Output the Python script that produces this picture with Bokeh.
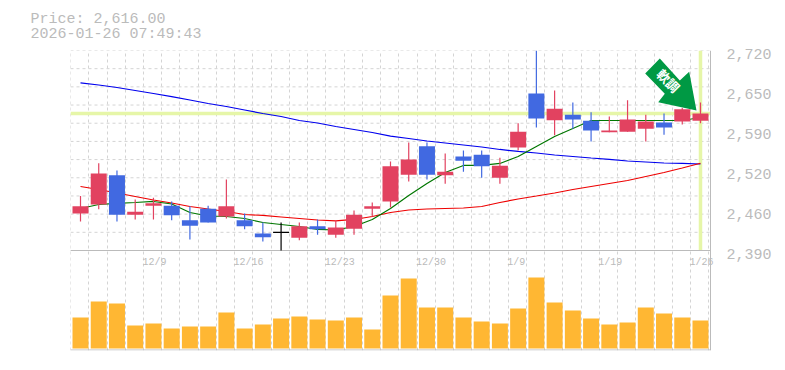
from bokeh.plotting import figure
from bokeh.embed import file_html
from bokeh.resources import INLINE
from bokeh.models import (ColumnDataSource, FixedTicker, Label, LinearAxis, Range1d, Title)

open_ = [2451,2466,2514,2449,2464,2464,2440,2459,2446,2440,2418,2420,2411,2430,2416,2426,2459,2471,2515,2562,2514,2545,2548,2510,2560,2649,2605,2614,2604,2585,2586,2591,2601,2603,2604]
high_ = [2480,2534,2522,2474,2477,2471,2463,2464,2507,2451,2436,2436,2436,2441,2440,2456,2469,2537,2568,2568,2550,2555,2555,2543,2600,2720,2654,2634,2618,2611,2638,2614,2616,2625,2634]
low_  = [2438,2458,2438,2441,2441,2440,2408,2436,2443,2425,2405,2390,2407,2416,2411,2416,2446,2461,2504,2507,2500,2520,2510,2500,2555,2593,2580,2591,2570,2585,2586,2570,2581,2598,2600]
close = [2463,2517,2449,2454,2468,2448,2431,2436,2463,2430,2412,2420,2430,2425,2428,2449,2463,2529,2540,2515,2520,2538,2529,2530,2586,2608,2624,2606,2588,2588,2606,2603,2593,2623,2616]
ma_short = [2459.3,2465.9,2467.6,2469.2,2470.9,2466.7,2452.7,2446.9,2446.1,2442.8,2436.2,2432.9,2429.6,2424.7,2423.8,2429.6,2441.2,2459.3,2480.8,2500.6,2518.7,2530.3,2530.3,2533.6,2545.1,2561.6,2578.1,2591.3,2604.5,2604.5,2604.5,2604.5,2604.5,2604.5,2609.5]
ma_mid = [2495.6,2490.7,2484.9,2479.1,2473.3,2468.4,2462.6,2458.5,2454.4,2449.4,2447.8,2445.3,2442.8,2440.3,2439,2441.2,2446.1,2452.7,2456.8,2458.5,2459.3,2460.1,2462.6,2469.2,2475,2479.9,2484.9,2490.7,2495.6,2500.6,2505.5,2512.1,2518.7,2526.1,2534]
ma_long = [2666.7,2663.1,2659,2654,2649,2644,2638.3,2632.5,2627.6,2621.8,2616,2611.1,2604.5,2600.4,2594.6,2589.6,2584.7,2578.6,2574.8,2570.7,2567.4,2564.1,2560.8,2556.7,2553.4,2550.9,2547.6,2545.1,2542.6,2540.2,2537.7,2536,2534.4,2533.6,2532.7]
volume = [31,47,45,23,25,20,22,22,36,20,24,30,32,29,28,31,19,53,70,41,41,31,27,25,40,71,46,38,30,24,26,41,35,31,28]
date_index = [4,9,14,19,24,29,34]
date_labels = ["12/9","12/16","12/23","12/30","1/9","1/19","1/26"]
price_labels = ["2,720","2,650","2,590","2,520","2,460","2,390"]
price_ticks = [2720,2654,2588,2522,2456,2390]
grid_prices = list(range(2390,2721,30))
last_price = 2616
title_lines = ["Price: 2,616.00","2026-01-26 07:49:43"]
badge_text = "軟調"

RED="#e24260"; BLUE="#4169e1"; ORANGE="#ffb733"; GRAY="#bbbbbb"; GRID="#d4d4d4"; PALE="#e6f6a8"; GREEN="#009944"
MONO="Liberation Mono"
STEP=18.235

n=len(close)
xs=list(range(n))
p=figure(width=785,height=370,output_backend="svg",toolbar_location=None,
         x_range=Range1d(-10/STEP,634/STEP),y_range=Range1d(2225,2720),
         min_border_left=70,min_border_right=71,min_border_top=50,min_border_bottom=20,
         x_axis_location=None,y_axis_location=None)
p.extra_y_ranges={"vol":Range1d(-2,298)}
p.outline_line_color=None
p.background_fill_color="white"

def px(v): return (v-80)/STEP
def py(v): return 2802.5-1.65*v
x0,x1=px(70),px(710)

p.xgrid.ticker=FixedTicker(ticks=[-0.545+i for i in range(36)])
p.xgrid.grid_line_color=GRID; p.xgrid.grid_line_dash="3 3"; p.xgrid.grid_line_width=1
p.ygrid.grid_line_color=None
p.segment([x0]*len(grid_prices),grid_prices,[x1]*len(grid_prices),grid_prices,line_color=GRID,line_dash="3 3",line_width=1)

right=LinearAxis(ticker=FixedTicker(ticks=[t-5 for t in price_ticks]),
    major_label_overrides={t-5:l for t,l in zip(price_ticks,price_labels)},
    major_tick_line_color=None,minor_tick_line_color=None,axis_line_color=None,
    major_label_text_color=GRAY,major_label_text_font=MONO,major_label_text_font_size="15px",
    major_label_standoff=6)
p.add_layout(right,"right")

p.segment([x0],[last_price],[x1],[last_price],line_color=PALE,line_width=3.5)
p.segment([n-1],[2390],[n-1],[2720],line_color=PALE,line_width=3.5)
p.segment([x0],[2390],[x1],[2390],line_color=GRAY,line_width=1)
p.segment([x0],[-1.5],[x1],[-1.5],line_color=GRAY,line_width=1,y_range_name="vol")
p.segment([x1],[-2],[x1],[298],line_color=GRAY,line_width=1,y_range_name="vol")

p.vbar(x=xs,top=volume,bottom=0,width=16/STEP,fill_color=ORANGE,line_color=None,y_range_name="vol")

p.line(xs,ma_long,line_color="#0000ee",line_width=1.2)
p.line(xs,ma_mid,line_color="#ee0000",line_width=1.2)
p.line(xs,ma_short,line_color="#007700",line_width=1.2)

cols=[RED if c>o else BLUE if c<o else "#000000" for o,c in zip(open_,close)]
src=ColumnDataSource(dict(x=xs,h=high_,l=low_,o=open_,c=close,color=cols))
p.segment("x","h","x","l",source=src,line_color="color",line_width=1.2)
p.vbar(x="x",top="c",bottom="o",width=16/STEP,source=src,fill_color="color",line_color=None)
dj=[i for i in xs if open_[i]==close[i]]
p.segment([i-8/STEP for i in dj],[close[i] for i in dj],[i+8/STEP for i in dj],[close[i] for i in dj],line_color="#000000",line_width=1.2)

arrow=[(659.3,58),(644.7,73),(664.3,93.3),(657.7,101.7),(696,110),(688.7,71.3),(679.3,80)]
p.patch([px(a) for a,b in arrow],[py(b) for a,b in arrow],fill_color=GREEN,line_color=None)
p.add_layout(Label(x=px(668),y=py(80),text=badge_text,angle=-45,angle_units="deg",text_color="white",
    text_font="Noto Sans CJK JP",text_font_size="13px",text_font_style="bold",text_align="center",text_baseline="middle"))

for i,t in zip(date_index,date_labels):
    p.add_layout(Label(x=i,y=86,text=t,x_offset=-11,y_range_name="vol",
        text_color=GRAY,text_font=MONO,text_font_size="10px",text_align="left",text_baseline="middle"))

for t,gap in zip(reversed(title_lines),[16,-24]):
    p.add_layout(Title(text=t,align="left",offset=-40,standoff=gap,text_color=GRAY,text_font=MONO,
        text_font_size="15px",text_font_style="normal"),"above")

open("out.html","w").write(file_html(p,INLINE))
